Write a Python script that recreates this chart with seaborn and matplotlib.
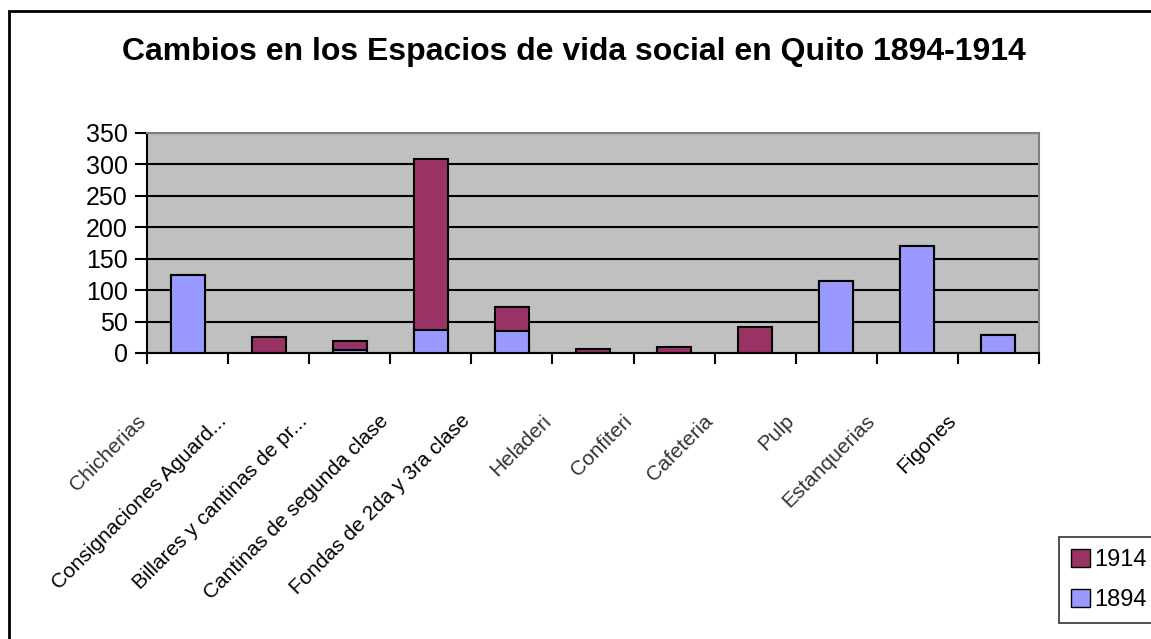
import matplotlib
matplotlib.use("Agg")
import matplotlib.pyplot as plt
from matplotlib.patches import Patch, Rectangle
from matplotlib.transforms import ScaledTranslation
import seaborn as sns
import pandas as pd

categories = ["Chicherias", "Consignaciones Aguard...", "Billares y cantinas de pr...",
              "Cantinas de segunda clase", "Fondas de 2da y 3ra clase", "Heladeri",
              "Confiteri", "Cafeteria", "Pulp", "Estanquerias", "Figones"]
faded = ["Chicherias", "Heladeri", "Confiteri", "Cafeteria", "Pulp", "Estanquerias"]
v1894 = [124, 0, 5, 37, 35, 0, 0, 0, 114, 171, 28]
v1914 = [0, 25, 14, 271, 38, 6, 9, 41, 0, 0, 0]
yticks = [0, 50, 100, 150, 200, 250, 300, 350]

c1914 = "#993366"
c1894 = "#9999FF"

df = pd.DataFrame({"cat": categories, "y1894": v1894, "y1914": v1914})
df["total"] = df["y1894"] + df["y1914"]

plt.rcParams['font.family'] = ['Liberation Sans', 'DejaVu Sans']

fig = plt.figure(figsize=(11.51, 6.39), dpi=100)
ax = fig.add_axes([147 / 1151, 1 - 353 / 639, (1039 - 147) / 1151, (353 - 133) / 639])
ax.set_facecolor("#C0C0C0")

# stacked bars: total (1914 on top) first, then 1894 over it
sns.barplot(data=df, x="cat", y="total", color=c1914, width=0.42,
            edgecolor="black", linewidth=1.5, saturation=1, ax=ax, zorder=3)
sns.barplot(data=df, x="cat", y="y1894", color=c1894, width=0.42,
            edgecolor="black", linewidth=1.5, saturation=1, ax=ax, zorder=4)

ax.set_ylim(0, 350)
ax.set_xlim(-0.5, len(categories) - 0.5)
ax.set_yticks(yticks)
ax.yaxis.grid(True, color="black", linewidth=1.5)
ax.set_axisbelow(True)
ax.set_xlabel("")
ax.set_ylabel("")

for s in ["top", "right"]:
    ax.spines[s].set_color("#808080")
    ax.spines[s].set_linewidth(1.5)
for s in ["left", "bottom"]:
    ax.spines[s].set_color("black")
    ax.spines[s].set_linewidth(1.5)

ax.tick_params(axis="y", labelsize=18, length=9, width=1.5, pad=5)
ax.set_xticks(range(len(categories)))
ax.set_xticks([i - 0.5 for i in range(len(categories) + 1)], minor=True)
ax.tick_params(axis="x", which="minor", length=8, width=1.5, direction="out")
ax.tick_params(axis="x", which="major", length=0, pad=0)
ax.set_xticklabels(categories, fontsize=15, rotation=45, ha="right", va="center",
                   rotation_mode="anchor")
for lab in ax.get_xticklabels():
    lab.set_transform(lab.get_transform() + ScaledTranslation(-0.45, -0.65, fig.dpi_scale_trans))
    if lab.get_text() in faded:
        lab.set_color("#333333")

fig.suptitle("Cambios en los Espacios de vida social en Quito 1894-1914",
             x=574 / 1151, y=1 - 37 / 639, fontsize=23, fontweight="bold", va="top")

handles = [Patch(facecolor=c1914, edgecolor="black", label="1914"),
           Patch(facecolor=c1894, edgecolor="black", label="1894")]
leg = fig.legend(handles=handles, loc="upper left", bbox_to_anchor=(1059 / 1151, 1 - 537 / 639),
                 fontsize=17, frameon=True, fancybox=False, handlelength=0.8, handleheight=0.8,
                 handletextpad=0.2, borderpad=0.5, labelspacing=0.75, borderaxespad=0)
leg.get_frame().set_edgecolor("black")
leg.get_frame().set_linewidth(1.2)

fig.patches.append(Rectangle((9 / 1151, -0.1), 1.2, 1 - 11 / 639 + 0.1, fill=False,
                             edgecolor="black", linewidth=2, transform=fig.transFigure))

fig.savefig("out.png", dpi=100)
